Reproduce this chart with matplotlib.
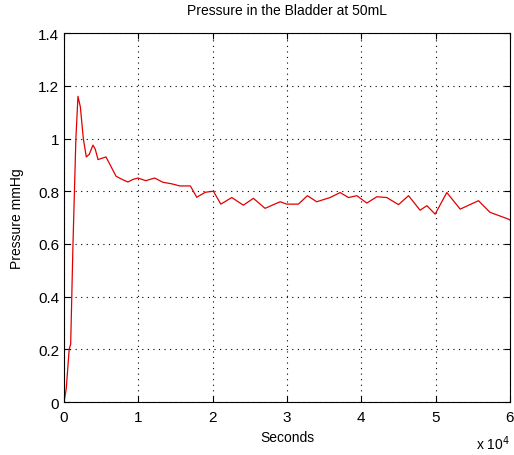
import numpy as np
import matplotlib.pyplot as plt

# pressure trace (seconds, mmHg)
t = [0, 300, 700, 900, 1210, 1600, 1880, 2200, 2600, 3000, 3400, 3900, 4200, 4580,
     5100, 5650, 6300, 7000, 7800, 8600, 9300, 9960, 11000, 12200, 13300, 14500,
     15600, 17000, 17860, 19000, 20100, 21100, 22570, 24130, 25480, 27050, 29070,
     29970, 31530, 32750, 34000, 35800, 37150, 38260, 39400, 40740, 42090, 43430,
     45000, 46350, 47900, 48820, 49930, 51500, 53300, 55760, 57300, 59800, 60000]
p = [0.0, 0.05, 0.2, 0.22, 0.6, 1.0, 1.16, 1.12, 1.0, 0.93, 0.94, 0.975, 0.96, 0.92,
     0.925, 0.93, 0.895, 0.857, 0.845, 0.835, 0.845, 0.85, 0.84, 0.85, 0.834, 0.828,
     0.82, 0.82, 0.777, 0.796, 0.80, 0.751, 0.776, 0.747, 0.773, 0.735, 0.76,
     0.751, 0.751, 0.783, 0.76, 0.776, 0.795, 0.776, 0.783, 0.755, 0.779, 0.776,
     0.749, 0.783, 0.728, 0.745, 0.713, 0.795, 0.732, 0.764, 0.72, 0.694, 0.69]

xticks = [0, 1, 2, 3, 4, 5, 6]
yticks = [0, 0.2, 0.4, 0.6, 0.8, 1, 1.2, 1.4]

plt.rcParams['font.family'] = ['Liberation Sans', 'DejaVu Sans']

fig = plt.figure(figsize=(5.14, 4.56), dpi=100)
ax = fig.add_axes([0.1245, 0.1162, 0.8677, 0.809])
ax.plot(np.array(t) / 1e4, p, color='#e00000', linewidth=0.9)

ax.set_xlim(0, 6)
ax.set_ylim(0, 1.4)
ax.set_xticks(xticks)
ax.set_xticklabels([str(v) for v in xticks])
ax.set_yticks(yticks)
ax.set_yticklabels(['0', '0.2', '0.4', '0.6', '0.8', '1', '1.2', '1.4'])
ax.grid(True, color='black', linestyle=(0, (1, 4)), linewidth=0.8)
ax.tick_params(direction='in', top=True, right=True, labelsize=11, length=4)
ax.tick_params(axis='x', pad=6)
for s in ax.spines.values():
    s.set_linewidth(0.8)

ax.set_title('Pressure in the Bladder at 50mL', fontsize=10, pad=14)
ax.set_xlabel('Seconds', fontsize=10, labelpad=4)
ax.set_ylabel('Pressure mmHg', fontsize=10, labelpad=10)
ax.text(1.0, -0.085, r'x 10$^{4}$', transform=ax.transAxes, ha='right', va='top', fontsize=10)

fig.savefig('out.png')
